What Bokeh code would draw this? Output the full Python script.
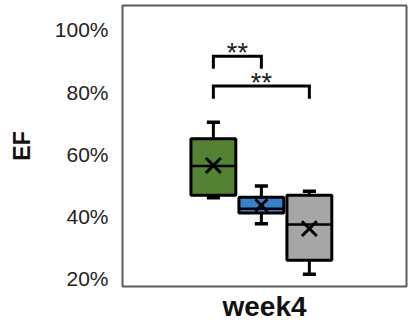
from bokeh.plotting import figure
from bokeh.models import ColumnDataSource, FixedTicker, Range1d
from bokeh.core.properties import value
from bokeh.embed import file_html
from bokeh.resources import INLINE

# ---- data (in %) ----
groups = ["group1", "group2", "group3"]
whisker_low = [46.0, 37.7, 21.4]
q1 = [46.8, 41.1, 25.9]
median = [56.2, 42.5, 37.4]
q3 = [65.0, 46.2, 46.8]
whisker_high = [70.3, 49.8, 48.1]
mean = [56.4, 43.6, 36.1]

y_ticks = [20, 40, 60, 80, 100]
y_tick_labels = ["20%", "40%", "60%", "80%", "100%"]

# significance brackets: (group a, group b, top, leg end, label)
bracket_pairs = [(0, 1), (0, 2)]
bracket_top = [91.5, 81.9]
bracket_leg = [87.5, 77.8]
bracket_text = ["**", "**"]

x_label = "week4"
y_label = "EF"

# ---- layout / style (not data) ----
x_centers = [0.320, 0.489, 0.658]
box_width = 0.158
cap_width = 0.046
colors = ["#548235", "#3a80c8", "#a6a6a6"]
mean_sizes = [21, 17, 21]
FONT = "Liberation Sans"

p = figure(width=411, height=325, output_backend="svg", toolbar_location=None,
           x_range=Range1d(0, 1), y_range=Range1d(17.5, 107.8),
           min_border_left=122, min_border_right=5, min_border_top=5,
           min_border_bottom=39)
p.background_fill_color = "white"
p.border_fill_color = "white"
p.outline_line_color = "#5a5a5a"
p.outline_line_width = 2
p.xgrid.visible = False
p.ygrid.visible = False

# y axis
p.yaxis.ticker = FixedTicker(ticks=y_ticks)
p.yaxis.major_label_overrides = {t: l for t, l in zip(y_ticks, y_tick_labels)}
p.yaxis.axis_line_color = None
p.yaxis.major_tick_line_color = None
p.yaxis.minor_tick_line_color = None
p.yaxis.major_tick_out = 0
p.yaxis.major_label_standoff = 14
p.yaxis.major_label_text_font = FONT
p.yaxis.major_label_text_font_size = "21px"
p.yaxis.major_label_text_color = "#222222"
p.yaxis.axis_label = y_label
p.yaxis.axis_label_text_font = FONT
p.yaxis.axis_label_text_font_style = "bold"
p.yaxis.axis_label_text_font_size = "23px"
p.yaxis.axis_label_text_color = "#111111"
p.yaxis.axis_label_standoff = 17

# x axis
p.xaxis.ticker = FixedTicker(ticks=[])
p.xaxis.axis_line_color = None
p.xaxis.major_tick_line_color = None
p.xaxis.minor_tick_line_color = None
p.xaxis.major_tick_out = 0
p.xaxis.major_label_standoff = 0
p.xaxis.major_label_text_font_size = "0px"
p.xaxis.axis_label = x_label
p.xaxis.axis_label_text_font = FONT
p.xaxis.axis_label_text_font_style = "bold"
p.xaxis.axis_label_text_font_size = "28px"
p.xaxis.axis_label_text_color = "#111111"
p.xaxis.axis_label_standoff = 4

src = ColumnDataSource(dict(
    x=x_centers,
    left=[x - box_width / 2 for x in x_centers],
    right=[x + box_width / 2 for x in x_centers],
    cl=[x - cap_width / 2 for x in x_centers],
    cr=[x + cap_width / 2 for x in x_centers],
    lo=whisker_low, q1=q1, med=median, q3=q3, hi=whisker_high, mean=mean,
    color=colors, msize=mean_sizes,
))

# whiskers
p.segment(x0="x", y0="lo", x1="x", y1="q1", source=src, line_color="black", line_width=3)
p.segment(x0="x", y0="q3", x1="x", y1="hi", source=src, line_color="black", line_width=3)
# caps
p.segment(x0="cl", y0="lo", x1="cr", y1="lo", source=src, line_color="black", line_width=3.5)
p.segment(x0="cl", y0="hi", x1="cr", y1="hi", source=src, line_color="black", line_width=3.5)
# boxes
p.vbar(x="x", width=box_width, bottom="q1", top="q3", source=src,
       fill_color="color", line_color="black", line_width=3)
# median
p.segment(x0="left", y0="med", x1="right", y1="med", source=src, line_color="black", line_width=2.5)
# mean
p.scatter(x="x", y="mean", source=src, marker="x", size="msize",
          line_color="black", line_width=3)

# brackets
bxs, bys, tx, ty = [], [], [], []
for (a, b), top, leg in zip(bracket_pairs, bracket_top, bracket_leg):
    xa, xb = x_centers[a], x_centers[b]
    bxs.append([xa, xa, xb, xb])
    bys.append([leg, top, top, leg])
    tx.append((xa + xb) / 2)
    ty.append(top)
p.multi_line(xs=bxs, ys=bys, line_color="black", line_width=3, line_join="miter")
p.text(x=tx, y=ty, text=bracket_text, text_align="center", text_baseline="alphabetic",
       y_offset=-3, text_font=value(FONT), text_font_size="27px", text_color="#222222")

open("out.html", "w").write(file_html(p, INLINE))
